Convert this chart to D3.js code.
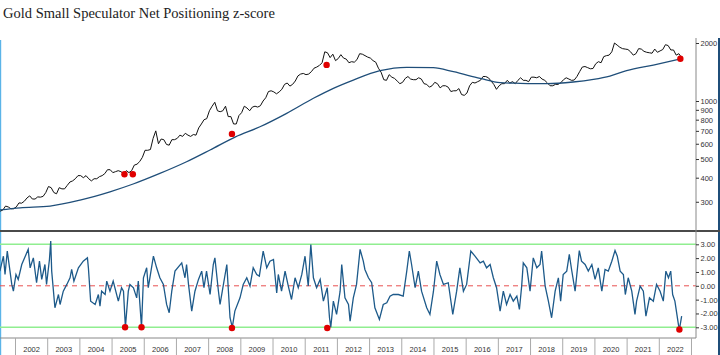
<!DOCTYPE html>
<html><head><meta charset="utf-8">
<script src="https://cdn.jsdelivr.net/npm/d3@7"></script>
<style>html,body{margin:0;padding:0;background:#fff;overflow:hidden}</style>
</head><body>
<svg id="c" width="720" height="355"></svg>
<script>
const title = "Gold Small Speculator Net Positioning z-score";
// monthly gold price, Jul 2001 .. Sep 2022 (mid-month)
const priceStart = 2001.54;
const goldPrice = [
268,272,285,282,276,276,
282,296,295,302,314,322,310,310,318,317,320,335,
360,355,335,330,355,350,350,365,380,385,395,410,
410,400,410,395,385,395,395,405,410,420,440,440,
425,430,435,430,420,435,425,435,465,470,485,510,
555,555,560,640,700,600,635,630,595,590,630,630,
640,665,655,680,665,655,670,665,725,760,800,810,
890,940,985,890,880,890,940,830,830,760,760,840,
870,940,920,890,930,940,930,945,1000,1040,1120,1130,
1115,1090,1115,1150,1220,1240,1195,1220,1270,1350,1380,1390,
1370,1380,1420,1480,1500,1530,1580,1800,1780,1680,1750,1620,
1660,1740,1670,1650,1580,1600,1590,1640,1760,1750,1720,1690,
1670,1620,1590,1480,1410,1290,1280,1370,1330,1310,1270,1230,
1250,1310,1340,1300,1290,1290,1320,1300,1230,1220,1180,1200,
1250,1230,1170,1200,1200,1180,1120,1130,1130,1160,1080,1070,
1100,1200,1250,1240,1260,1280,1340,1340,1320,1270,1220,1150,
1200,1230,1230,1280,1240,1260,1230,1280,1320,1280,1280,1260,
1330,1330,1320,1340,1300,1280,1240,1200,1200,1220,1220,1245,
1290,1320,1300,1280,1285,1340,1420,1500,1510,1490,1470,1475,
1560,1600,1580,1700,1720,1730,1800,2000,1950,1900,1870,1860,
1850,1800,1730,1760,1870,1860,1810,1790,1780,1770,1860,1790,
1820,1850,1960,1940,1840,1840,1730,1760,1680
];
// long moving average
const maDates = [2001.53,2002.16,2003.09,2004.02,2004.95,2005.67,2006.50,2007.33,2008.06,2008.85,2009.61,2010.44,2011.27,2011.89,2012.51,2013.34,2014.17,2014.99,2015.62,2016.45,2017.07,2017.69,2018.52,2019.34,2019.97,2020.48,2021.00,2021.83,2022.71];
const maValues = [272,279,285,306,338,371,421,484,557,652,735,863,1033,1164,1285,1436,1496,1489,1419,1311,1245,1236,1230,1255,1296,1348,1436,1537,1658];
// small speculator net positioning z-score
const zDates = [
2001.53,2001.64,2001.69,2001.76,2001.90,2001.95,2002.03,2002.10,2002.21,2002.41,2002.47,2002.57,2002.67,2002.76,2002.83,2002.93,2002.98,2003.07,2003.11,2003.14,2003.24,2003.35,2003.40,2003.50,2003.61,2003.71,2003.76,2003.83,2003.97,2004.12,2004.25,2004.28,2004.35,2004.49,2004.59,2004.64,2004.69,2004.80,2004.85,2004.95,2005.05,2005.21,2005.31,2005.37,2005.43,2005.52,2005.57,2005.68,2005.78,2005.83,2005.93,2005.99,2006.09,2006.14,2006.19,2006.30,2006.40,2006.50,2006.61,2006.71,2006.79,2006.87,2006.97,2007.18,2007.28,2007.33,2007.39,2007.49,2007.59,2007.70,2007.80,2007.87,2007.95,2008.06,2008.16,2008.21,2008.32,2008.37,2008.44,2008.58,2008.68,2008.75,2008.83,
2008.99,2009.09,2009.20,2009.30,2009.40,2009.51,2009.59,2009.71,2009.82,2009.92,2010.03,2010.13,2010.18,2010.28,2010.39,2010.49,2010.59,2010.70,2010.80,2010.91,2011.01,2011.11,2011.19,2011.27,2011.37,2011.48,2011.58,2011.70,2011.77,2011.81,2011.89,2011.99,2012.10,2012.15,2012.25,2012.36,2012.41,2012.51,2012.61,2012.72,2012.82,2012.87,2012.98,2013.08,2013.18,2013.32,2013.44,2013.55,2013.65,2013.75,2013.91,2014.06,2014.17,2014.25,2014.32,2014.43,2014.53,2014.63,2014.79,2014.89,2015.00,2015.10,2015.20,2015.31,2015.46,2015.60,2015.72,2015.82,2015.93,2016.03,2016.16,2016.29,
2016.45,2016.55,2016.65,2016.76,2016.86,2016.96,2017.07,2017.17,2017.27,2017.38,2017.48,2017.59,2017.67,2017.74,2017.79,2017.90,2018.00,2018.10,2018.21,2018.31,2018.36,2018.47,2018.57,2018.67,2018.78,2018.88,2018.95,2019.03,2019.14,2019.22,2019.29,2019.40,2019.53,2019.60,2019.71,2019.81,2019.92,2020.02,2020.12,2020.23,2020.33,2020.43,2020.54,2020.64,2020.71,2020.80,2020.90,2020.96,2021.05,2021.16,2021.26,2021.31,2021.42,2021.52,2021.60,2021.71,2021.83,2021.93,2022.04,2022.14,2022.22,2022.30,2022.37,2022.43,2022.50,2022.61,2022.64,2022.71];
const zValues = [
1.06,2.14,0.82,2.51,0.10,-0.39,0.82,0.46,1.54,2.63,1.30,2.02,0.22,1.78,0.46,1.54,0.10,1.90,3.23,1.06,-1.59,-0.63,-1.35,-0.39,0.10,0.58,1.18,0.34,1.30,1.78,2.02,1.30,-1.11,-1.35,-0.63,-1.47,-0.39,-0.63,0.34,-0.39,0.34,-1.11,-0.14,-0.39,-3.0,-0.39,0.10,-0.14,-0.87,0.34,-3.0,0.58,1.30,-0.14,0.58,2.14,1.30,0.58,0.10,-1.35,-1.95,-0.39,1.06,1.66,0.58,1.54,0.10,-1.83,-0.39,0.46,1.06,-0.14,1.06,-0.63,1.54,2.02,-0.39,-1.35,-0.39,1.54,-2.31,-3.0,-1.83,
-0.87,0.10,0.58,-0.02,1.30,0.82,0.70,2.51,1.30,1.78,1.90,-0.51,0.82,-0.39,1.06,-0.02,-0.99,0.58,-0.14,0.82,2.14,-0.02,2.99,0.58,-0.14,0.46,-1.11,-0.14,-2.31,-3.0,-1.11,-2.07,-0.39,1.54,-0.87,-1.35,-2.55,-0.87,0.10,2.63,1.78,1.18,0.58,0.22,-1.59,-2.43,-1.35,-1.23,-0.75,-0.63,-0.63,-0.75,1.06,2.51,1.54,-0.14,1.06,-0.39,-1.59,-2.07,-0.39,1.78,0.82,0.10,0.22,-2.07,-0.39,1.30,-0.39,0.10,2.51,2.14,
1.66,1.78,1.30,1.54,0.58,-0.14,-1.83,-0.39,-1.35,-0.63,-1.11,-0.75,-1.71,-0.02,1.66,1.30,-0.39,2.02,1.30,1.54,2.51,-0.02,-1.11,-2.31,-0.39,0.58,-1.11,0.82,1.06,2.27,1.18,-0.39,2.55,1.78,1.54,1.06,1.54,0.46,1.30,-0.39,1.18,1.06,1.78,2.55,2.14,1.06,0.82,-0.63,0.58,-0.39,-2.07,-1.11,-0.02,-0.39,-2.19,-0.87,-1.11,0.10,-0.39,-1.11,1.06,0.58,1.06,-0.63,-1.11,-2.80,-3.16,-2.19];
// signal points (red dots)
const signalDates = [2005.42, 2005.93, 2008.74, 2011.70, 2022.64];
const signalUpperDates = [2005.40, 2005.66, 2008.74, 2011.68, 2022.67];
const signalPrice = [417, 417, 675, 1540, 1658];
const signalZ = [-3.0, -3.0, -3.05, -3.05, -3.16];
const priceTicks = [300,400,500,600,700,800,900,1000,2000];
const zTicks = [3,2,1,0,-1,-2,-3];
const years = d3.range(2002, 2023);

const svg = d3.select("#c");
const axisX = 696;
const x = d3.scaleLinear().domain([2001.534, 2001.534 + axisX/32.19]).range([0, axisX]);
const yP = d3.scaleLog().domain([214.1, 2123.2]).range([230, 38]);
const yZ = d3.scaleLinear().domain([-3, 3]).range([327.3, 244.3]);

svg.append("text").attr("x", 3).attr("y", 18)
  .attr("font-family", "'Liberation Serif','Times New Roman',serif")
  .attr("font-size", 14.5).attr("fill", "#222").text(title);

// frame
svg.append("line").attr("x1",0.6).attr("x2",0.6).attr("y1",40).attr("y2",355).attr("stroke","#5bb4e8").attr("stroke-width",1.2);
svg.append("line").attr("x1",719).attr("x2",719).attr("y1",38).attr("y2",355).attr("stroke","#1f4e79").attr("stroke-width",2);
svg.append("line").attr("x1",0).attr("x2",720).attr("y1",231).attr("y2",231).attr("stroke","#4a4a4a").attr("stroke-width",2);

// upper panel
const pricePts = goldPrice.map((v,i)=>[priceStart + i/12, v]);
svg.append("path").datum(pricePts)
  .attr("d", d3.line().x(d=>x(d[0])).y(d=>yP(d[1])))
  .attr("fill","none").attr("stroke","#111").attr("stroke-width",1.0);
svg.append("path").datum(maDates.map((d,i)=>[d, maValues[i]]))
  .attr("d", d3.line().curve(d3.curveMonotoneX).x(d=>x(d[0])).y(d=>yP(d[1])))
  .attr("fill","none").attr("stroke","#1f4e79").attr("stroke-width",1.3);
svg.append("g").selectAll("circle").data(signalUpperDates).join("circle")
  .attr("cx", d=>x(d)).attr("cy", (d,i)=>yP(signalPrice[i])).attr("r",3.2).attr("fill","#e00000");

// lower panel
svg.append("g").selectAll("line.g").data([3,-3]).join("line")
  .attr("x1",0).attr("x2",axisX).attr("y1",d=>yZ(d)).attr("y2",d=>yZ(d))
  .attr("stroke","#90ee90").attr("stroke-width",1.5);
svg.append("line").attr("x1",0).attr("x2",axisX).attr("y1",yZ(0)).attr("y2",yZ(0))
  .attr("stroke","#e85050").attr("stroke-width",1).attr("stroke-dasharray","5,4");
svg.append("path").datum(zDates.map((d,i)=>[d, zValues[i]]))
  .attr("d", d3.line().x(d=>x(d[0])).y(d=>yZ(d[1])))
  .attr("fill","none").attr("stroke","#1d5a8a").attr("stroke-width",1.3);
svg.append("g").selectAll("circle").data(signalDates).join("circle")
  .attr("cx", d=>x(d)).attr("cy", (d,i)=>yZ(signalZ[i])).attr("r",3.2).attr("fill","#e00000");

// right axes
const fontAx = "'Liberation Sans',Arial,sans-serif";
function styleAxis(g){
  g.select(".domain").remove();
  g.selectAll(".tick line").attr("stroke","#333");
  g.selectAll(".tick text").attr("font-family",fontAx).attr("font-size",7.5).attr("fill","#333");
}
svg.append("line").attr("x1",axisX).attr("x2",axisX).attr("y1",38).attr("y2",338).attr("stroke","#888").attr("stroke-width",1);
svg.append("g").attr("transform",`translate(${axisX},0)`)
  .call(d3.axisRight(yP).tickValues(priceTicks).tickFormat(d3.format("d")).tickSize(3).tickPadding(1.5))
  .call(styleAxis);
svg.append("g").attr("transform",`translate(${axisX},0)`)
  .call(d3.axisRight(yZ).tickValues(zTicks).tickFormat(d=>d.toFixed(2)).tickSize(3).tickPadding(1.5))
  .call(styleAxis);

// bottom axis
svg.append("line").attr("x1",0).attr("x2",axisX).attr("y1",338).attr("y2",338).attr("stroke","#888");
const sep = svg.append("g").attr("transform","translate(0,338)")
  .call(d3.axisBottom(x).tickValues(years.concat([2023])).tickSize(17).tickFormat(""));
sep.select(".domain").remove();
sep.selectAll(".tick line").attr("stroke","#aaa");
const lab = svg.append("g").attr("transform","translate(0,338)")
  .call(d3.axisBottom(x).tickValues(years.map(y=>y+0.5)).tickSize(0).tickPadding(9).tickFormat(d=>String(Math.floor(d))));
lab.select(".domain").remove();
lab.selectAll(".tick text").attr("font-family",fontAx).attr("font-size",7.5).attr("fill","#333");
</script>
</body></html>
